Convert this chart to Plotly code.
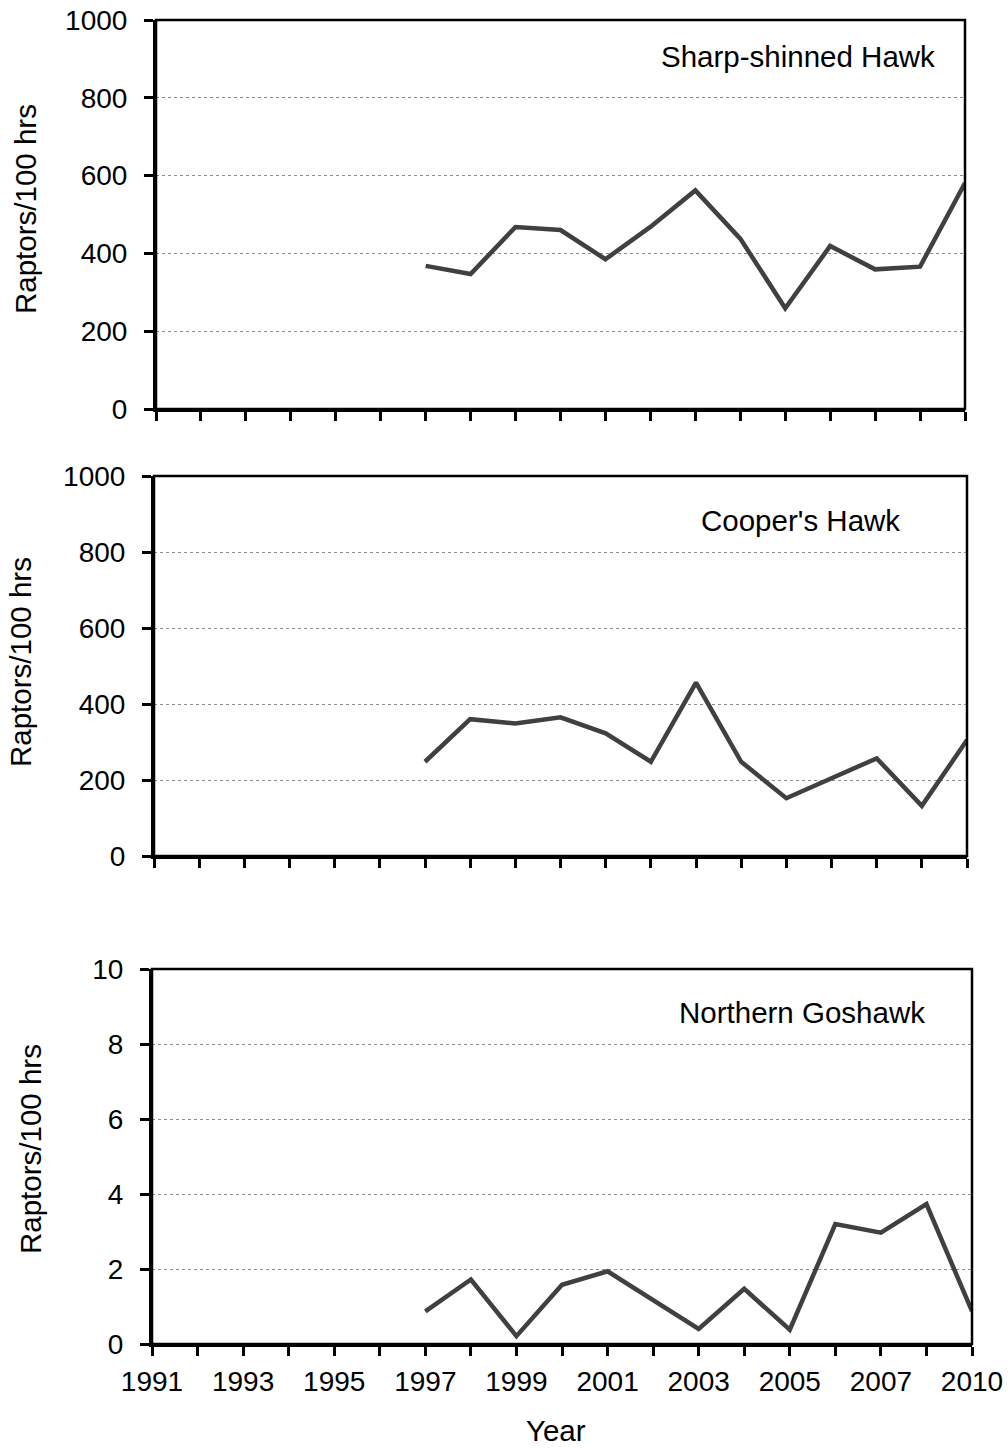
import plotly.graph_objects as go

# ---- data ----
categories = [str(y) for y in range(1991, 2009)] + ["2010"]
years = ["1997", "1998", "1999", "2000", "2001", "2002", "2003",
         "2004", "2005", "2006", "2007", "2008", "2010"]
sharp_shinned = [368, 347, 468, 460, 385, 468, 562, 438, 259, 419, 359, 366, 581]
coopers = [248, 360, 349, 365, 323, 248, 456, 248, 152, 204, 257, 132, 305]
goshawk = [0.87, 1.72, 0.21, 1.58, 1.94, 1.16, 0.40, 1.47, 0.38, 3.20, 2.97, 3.73, 0.875]
tick_labels = [c if i % 2 == 0 else "" for i, c in enumerate(categories)]
panel_titles = ["Sharp-shinned Hawk", "Cooper's Hawk", "Northern Goshawk"]
y_title = "Raptors/100 hrs"
x_title = "Year"

W, H = 1008, 1448
FONT = "Liberation Sans, Arial, sans-serif"
FS = 28
FS_T = 29.5
LINE_COLOR = "#404040"

# panel geometry in pixels (left, right, top, bottom)
panels = [(156, 965, 20, 409), (154, 967, 476, 856), (152, 972, 969, 1344)]
yranges = [(0, 1000, 200), (0, 1000, 200), (0, 10, 2)]
series = [sharp_shinned, coopers, goshawk]
title_pos = [(798, 57), (800, 520), (802, 1012)]
ytitle_pos = [(25, 209), (20, 662), (30, 1149)]

fig = go.Figure()
annotations = []
shapes = []
for i, ((l, r, t, b), (y0, y1, dy), vals) in enumerate(zip(panels, yranges, series)):
    k = "" if i == 0 else str(i + 1)
    fig.add_trace(go.Scatter(
        x=years, y=vals, mode="lines",
        line=dict(color=LINE_COLOR, width=4.5),
        xaxis="x" + k, yaxis="y" + k, showlegend=False,
    ))
    xd = [l / W, r / W]
    yd = [1 - b / H, 1 - t / H]
    fig.layout["xaxis" + k] = dict(
        domain=xd, anchor="y" + k, type="category", automargin=False,
        categoryorder="array", categoryarray=categories,
        range=[0, len(categories) - 1],
        tickmode="array", tickvals=categories, ticktext=tick_labels,
        showticklabels=(i == 2), ticks="outside", ticklen=9, tickwidth=2.5,
        tickcolor="black", showline=True, linecolor="black", linewidth=3,
        showgrid=False, zeroline=False,
        tickfont=dict(family=FONT, size=FS, color="black"),
        ticklabelstandoff=1,
    )
    fig.layout["yaxis" + k] = dict(
        domain=yd, anchor="x" + k, range=[y0, y1], dtick=dy, tick0=0,
        automargin=False,
        ticks="outside", ticklen=9, tickwidth=2.5, tickcolor="black",
        showline=True, linecolor="black", linewidth=3,
        showgrid=True, gridcolor="#8c8c8c", gridwidth=1, griddash="dot",
        zeroline=False,
        tickfont=dict(family=FONT, size=FS, color="black"),
        ticklabelstandoff=11,
    )
    # top/right frame
    shapes.append(dict(type="rect", xref="x" + k + " domain", yref="y" + k + " domain",
                       x0=0, x1=1, y0=0, y1=1, line=dict(color="black", width=2.5),
                       layer="above"))
    tx, ty = title_pos[i]
    annotations.append(dict(text=panel_titles[i], x=tx / W, y=1 - ty / H, xref="paper",
                            yref="paper", showarrow=False, xanchor="center", yanchor="middle",
                            font=dict(family=FONT, size=FS_T, color="black")))
    ax_, ay_ = ytitle_pos[i]
    annotations.append(dict(text=y_title, x=ax_ / W, y=1 - ay_ / H, xref="paper",
                            yref="paper", showarrow=False, xanchor="center", yanchor="middle",
                            textangle=-90, font=dict(family=FONT, size=FS_T, color="black")))

annotations.append(dict(text=x_title, x=556 / W, y=1 - 1430 / H, xref="paper", yref="paper",
                        showarrow=False, xanchor="center", yanchor="middle",
                        font=dict(family=FONT, size=FS_T, color="black")))

fig.update_layout(
    width=W, height=H, margin=dict(l=0, r=0, t=0, b=0, autoexpand=False),
    paper_bgcolor="white", plot_bgcolor="white",
    annotations=annotations, shapes=shapes,
    font=dict(family=FONT, size=FS, color="black"),
)

fig.write_html("out.html")
